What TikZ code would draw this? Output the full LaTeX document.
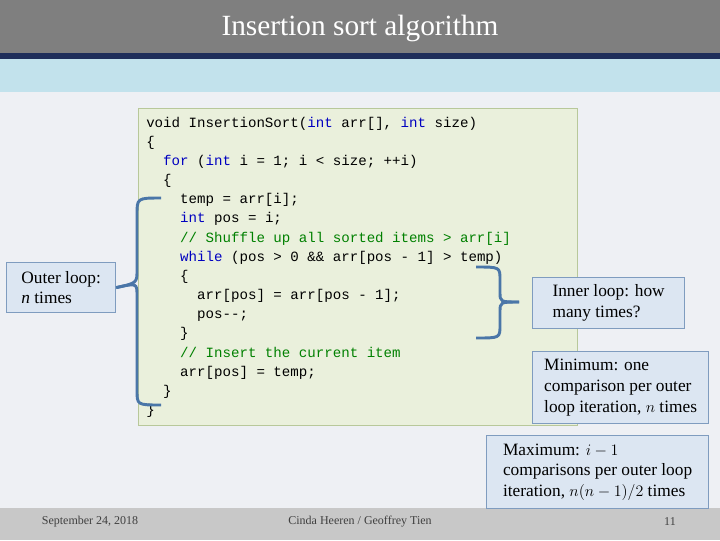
\documentclass[tikz,border=0pt]{standalone}
\usepackage{fontspec}
\setmainfont{Liberation Serif}
\setmonofont{Liberation Mono}
\definecolor{kw}{HTML}{0000C0}
\definecolor{cm}{HTML}{008000}
\definecolor{brk}{HTML}{4A76A8}
\definecolor{bg}{HTML}{EEF0F4}
\definecolor{topbar}{HTML}{7F7F7F}
\definecolor{navy}{HTML}{1F2E5A}
\definecolor{band}{HTML}{C2E2EC}
\definecolor{foot}{HTML}{C8C8C8}
\definecolor{codefill}{HTML}{EAF0DC}
\definecolor{codeline}{HTML}{B8C89A}
\definecolor{notefill}{HTML}{DCE6F2}
\definecolor{noteline}{HTML}{7F9CBF}
\newcommand{\K}[1]{\textcolor{kw}{#1}}
\newcommand{\C}[1]{\textcolor{cm}{#1}}
\begin{document}
\begin{tikzpicture}[x=0.75pt,y=-0.75pt,
  note/.style={draw=noteline,fill=notefill,line width=0.9pt,anchor=north west,align=left,inner sep=5pt,font=\fontsize{13}{15.5}\selectfont},
  code/.style={anchor=base west,inner sep=0pt,font=\ttfamily\fontsize{10.6}{12}\selectfont},
  brace/.style={draw=brk,line width=2.2pt}]
\useasboundingbox (0,0) rectangle (720,540);
\fill[bg] (0,0) rectangle (720,540);
\fill[topbar] (0,0) rectangle (720,53);
\fill[navy] (0,53) rectangle (720,59);
\fill[band] (0,59) rectangle (720,92);
\node[text=white,font=\fontsize{22}{26}\selectfont] (title) at (360,28) {Insertion sort algorithm};
\fill[foot] (0,508) rectangle (720,540);
\node[font=\fontsize{9}{11}\selectfont,text=black!75] (d) at (90,522) {September 24, 2018};
\node[font=\fontsize{9}{11}\selectfont,text=black!75] (a) at (360,522) {Cinda Heeren / Geoffrey Tien};
\node[font=\fontsize{9}{11}\selectfont,text=black!75] (p) at (670,522) {11};
\draw[fill=codefill,draw=codeline] (138,108) rectangle (577,425);
\node[code] (l1) at (146,127) {void InsertionSort(\K{int} arr[], \K{int} size)};
\node[code] (l2) at (146,146) {\{};
\node[code] (l3) at (146,165) {\ \ \K{for} (\K{int} i = 1; i < size; ++i)};
\node[code] (l4) at (146,184) {\ \ \{};
\node[code] (l5) at (146,203) {\ \ \ \ temp = arr[i];};
\node[code] (l6) at (146,222) {\ \ \ \ \K{int} pos = i;};
\node[code] (l7) at (146,242) {\ \ \ \ \C{// Shuffle up all sorted items > arr[i]}};
\node[code] (l8) at (146,261) {\ \ \ \ \K{while} (pos > 0 \&\& arr[pos - 1] > temp)};
\node[code] (l9) at (146,280) {\ \ \ \ \{};
\node[code] (l10) at (146,299) {\ \ \ \ \ \ arr[pos] = arr[pos - 1];};
\node[code] (l11) at (146,318) {\ \ \ \ \ \ pos--;};
\node[code] (l12) at (146,337) {\ \ \ \ \}};
\node[code] (l13) at (146,357) {\ \ \ \ \C{// Insert the current item}};
\node[code] (l14) at (146,376) {\ \ \ \ arr[pos] = temp;};
\node[code] (l15) at (146,395) {\ \ \}};
\node[code] (l16) at (146,414) {\}};
\node[note,minimum width=109*0.75pt,minimum height=50*0.75pt] (outer) at (6,262) {Outer loop:\\\textit{n} times};
\node[note,minimum width=152*0.75pt,minimum height=51*0.75pt] (inner) at (532,277) {Inner loop: how\\many times?};
\node[note,minimum width=176*0.75pt,minimum height=72*0.75pt] (min) at (532,351) {Minimum: one\\comparison per outer\\loop iteration, $n$ times};
\node[note,minimum width=222*0.75pt,minimum height=73*0.75pt] (max) at (486,435) {Maximum: $i-1$\\comparisons per outer loop\\iteration, $n(n-1)/2$ times};
\coordinate (bt) at (161,198);
\coordinate (bb) at (161,405);
\draw[brace] (bt) .. controls (137,198) .. (137,215) -- (137,270) .. controls (137,283) .. (outer.east);
\draw[brace] (bb) .. controls (137,405) .. (137,390) -- (137,296) .. controls (137,283) .. (outer.east);
\coordinate (rt) at (476,267);
\coordinate (rb) at (476,338);
\coordinate (rm) at (519,302);
\draw[brace] (rt) .. controls (500,267) .. (500,280) -- (500,292) .. controls (500,302) .. (rm);
\draw[brace] (rb) .. controls (500,338) .. (500,325) -- (500,312) .. controls (500,302) .. (rm);
\end{tikzpicture}
\end{document}
